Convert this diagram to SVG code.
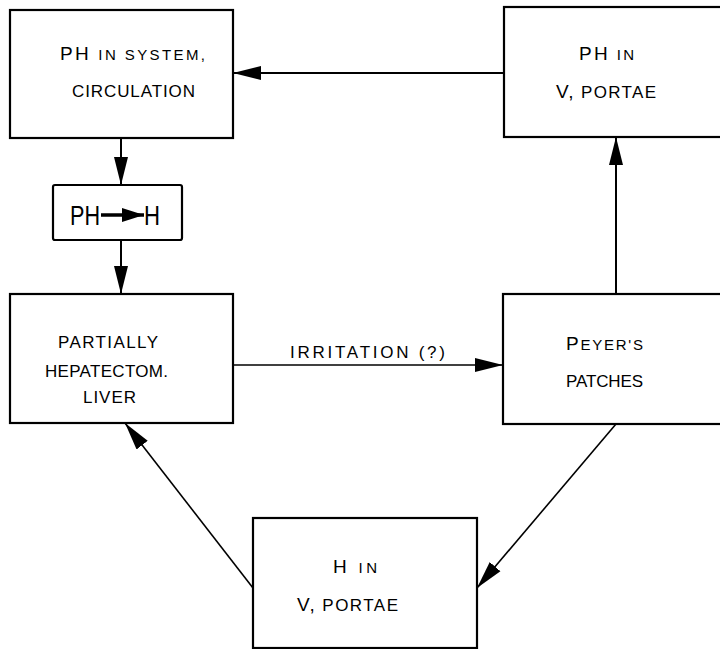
<svg xmlns="http://www.w3.org/2000/svg" width="720" height="649" viewBox="0 0 720 649">
<defs>
<style>
.box{fill:#fff;stroke:#000;stroke-width:2.2}
.t{font-family:"Liberation Sans","DejaVu Sans",sans-serif;font-size:17px;fill:#000}
.b{font-size:19px}
.s{font-size:15px}
.con{fill:none;stroke:#000;stroke-width:2}
.thin{fill:none;stroke:#000;stroke-width:1.6}
</style>
<marker id="ah" markerUnits="userSpaceOnUse" markerWidth="30" markerHeight="16" refX="28" refY="8" orient="auto">
<path d="M0,1 L28,8 L0,15 Z" fill="#000"/>
</marker>
<marker id="ahs" markerUnits="userSpaceOnUse" markerWidth="22" markerHeight="14" refX="22" refY="7" orient="auto">
<path d="M0,0 L22,7 L0,14 Z" fill="#000"/>
</marker>
</defs>
<rect width="720" height="649" fill="#fff"/>
<g id="connectors">
<line class="con" x1="504" y1="73" x2="233" y2="73" marker-end="url(#ah)"/>
<line class="con" x1="121" y1="138" x2="121" y2="185" marker-end="url(#ah)"/>
<line class="con" x1="121" y1="240" x2="121" y2="294" marker-end="url(#ah)"/>
<line class="thin" x1="233" y1="365" x2="503" y2="365" marker-end="url(#ah)"/>
<text class="t" x="290" y="358" textLength="155" lengthAdjust="spacing">IRRITATION (?)</text>
<line class="con" x1="616" y1="294" x2="616" y2="137" marker-end="url(#ah)"/>
<line class="thin" x1="616" y1="424" x2="477" y2="588" marker-end="url(#ah)"/>
<line class="thin" x1="253" y1="588" x2="125" y2="423" marker-end="url(#ah)"/>
</g>
<g id="ph-system">
<rect class="box" x="10" y="10" width="223" height="128"/>
<text class="t" x="60" y="60" textLength="145" lengthAdjust="spacing"><tspan class="b">PH</tspan> <tspan class="s">IN SYSTEM,</tspan></text>
<text class="t" x="72" y="97" textLength="123" lengthAdjust="spacing">CIRCULATION</text>
</g>
<g id="ph-portae">
<rect class="box" x="504" y="7" width="220" height="130"/>
<text class="t" x="579" y="60" textLength="55" lengthAdjust="spacing"><tspan class="b">PH</tspan> <tspan class="s">IN</tspan></text>
<text class="t" x="556" y="98" textLength="100" lengthAdjust="spacing"><tspan class="b">V,</tspan> PORTAE</text>
</g>
<g id="ph-to-h">
<rect class="box" x="53" y="185" width="129" height="55" rx="2"/>
<text class="t" x="70" y="225" style="font-size:28px" textLength="30" lengthAdjust="spacingAndGlyphs">PH</text>
<line x1="101" y1="215" x2="144" y2="215" stroke="#000" stroke-width="3.5" marker-end="url(#ahs)"/>
<text class="t" x="144" y="225" style="font-size:28px" textLength="16" lengthAdjust="spacingAndGlyphs">H</text>
</g>
<g id="liver">
<rect class="box" x="10" y="294" width="223" height="129"/>
<text class="t" x="58" y="348" textLength="100" lengthAdjust="spacing">PARTIALLY</text>
<text class="t" x="45" y="377" textLength="123" lengthAdjust="spacing">HEPATECTOM.</text>
<text class="t" x="83" y="403" textLength="53" lengthAdjust="spacing">LIVER</text>
</g>
<g id="peyers">
<rect class="box" x="503" y="294" width="221" height="130"/>
<text class="t" x="566" y="350" textLength="77" lengthAdjust="spacing"><tspan class="b">P</tspan><tspan class="s">EYER'S</tspan></text>
<text class="t" x="566" y="387" textLength="77" lengthAdjust="spacing">PATCHES</text>
</g>
<g id="h-portae">
<rect class="box" x="253" y="518" width="224" height="130"/>
<text class="t" x="333" y="573" textLength="44" lengthAdjust="spacing"><tspan class="b">H</tspan> <tspan class="s">IN</tspan></text>
<text class="t" x="297" y="611" textLength="101" lengthAdjust="spacing"><tspan class="b">V,</tspan> PORTAE</text>
</g>
</svg>
